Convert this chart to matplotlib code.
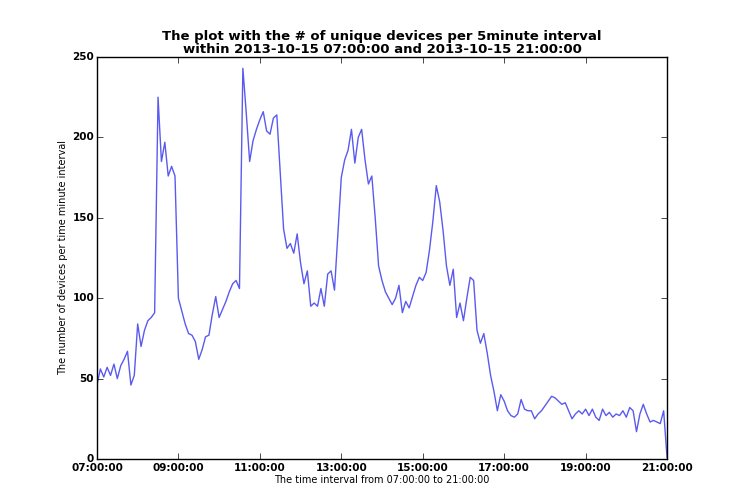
import numpy as np
import matplotlib
matplotlib.use("Agg")
from matplotlib import pyplot as plt

# unique devices seen in each 5 minute slot, 07:00 -> 21:00
counts = [46, 56, 51, 57, 52, 59, 50, 58, 62, 67,
          46, 52, 84, 70, 80, 86, 88, 91, 225, 185,
          197, 176, 182, 176, 100, 92, 84, 78, 77, 73,
          62, 68, 76, 77, 90, 101, 88, 93, 98, 104,
          109, 111, 106, 243, 215, 185, 198, 205, 211, 216,
          204, 202, 212, 214, 178, 143, 131, 134, 128, 140,
          122, 109, 117, 95, 97, 95, 106, 95, 115, 117,
          105, 140, 175, 186, 192, 205, 184, 200, 205, 186,
          171, 176, 150, 120, 111, 104, 100, 96, 100, 108,
          91, 98, 94, 101, 108, 113, 111, 116, 130, 148,
          170, 160, 142, 120, 108, 118, 88, 97, 86, 100,
          113, 111, 80, 72, 78, 66, 52, 42, 30, 40,
          36, 30, 27, 26, 28, 37, 31, 30, 30, 25,
          28, 30, 33, 36, 39, 38, 36, 34, 35, 30,
          25, 28, 30, 28, 31, 27, 31, 26, 24, 31,
          27, 29, 26, 28, 27, 30, 26, 32, 30, 17,
          28, 34, 28, 23, 24, 23, 22, 30, 1]
TICK_LABELS = ['07:00:00', '09:00:00', '11:00:00', '13:00:00',
               '15:00:00', '17:00:00', '19:00:00', '21:00:00']
Y_TICKS = [0, 50, 100, 150, 200, 250]

plt.style.use('classic')
fig = plt.figure(figsize=(7.29, 5.04), dpi=100, facecolor='white')
ax = fig.add_axes([0.133, 0.0893, 0.782, 0.7976])

minutes = np.arange(len(counts)) * 5
ax.plot(minutes, counts, color='#5a5af0', linewidth=1.0)

ax.set_xlim(0, minutes[-1])
ax.set_ylim(0, 250)
ax.set_xticks(np.arange(len(TICK_LABELS)) * 120)
ax.set_xticklabels(TICK_LABELS, fontsize=7.5, fontweight='bold')
ax.set_yticks(Y_TICKS)
ax.set_yticklabels([str(v) for v in Y_TICKS], fontsize=7.5, fontweight='bold')
ax.tick_params(direction='in', length=4, pad=2)
ax.tick_params(axis='x', pad=3)

ax.set_xlabel("The time interval from 07:00:00 to 21:00:00", fontsize=7, labelpad=1)
ax.set_ylabel("The number of devices per time minute interval", fontsize=7, labelpad=3)
ax.set_title("The plot with the # of unique devices per 5minute interval\n"
             "within 2013-10-15 07:00:00 and 2013-10-15 21:00:00",
             fontsize=9.5, fontweight='bold', linespacing=1.0, pad=3)

fig.savefig("out.png", dpi=100, facecolor='white')
